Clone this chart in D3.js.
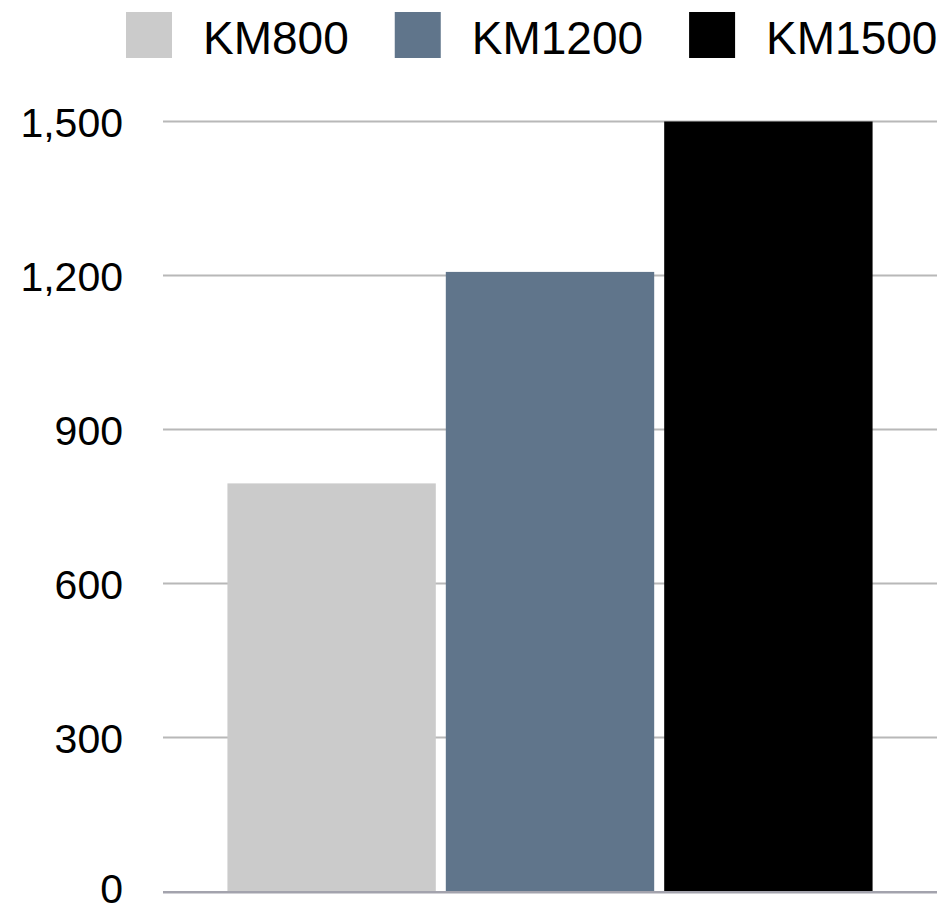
<!DOCTYPE html>
<html>
<head>
<meta charset="utf-8">
<script src="https://cdn.jsdelivr.net/npm/d3@7"></script>
<style>
  body { margin: 0; background: #fff; }
  text { font-family: "Liberation Sans", Arial, Helvetica, sans-serif; fill: #000; }
</style>
</head>
<body>
<div id="chart"></div>
<script>
var categories = ["KM800", "KM1200", "KM1500"];
var values = [795, 1207, 1500];
var colors = ["#cbcbcb", "#60758b", "#000000"];
var yTicks = [0, 300, 600, 900, 1200, 1500];

var width = 948, height = 913;
var margin = { top: 121.5, right: 11, bottom: 21.5, left: 163 };

var svg = d3.select("#chart").append("svg")
    .attr("width", width)
    .attr("height", height);

var x = d3.scaleBand()
    .domain(categories)
    .range([margin.left, width - margin.right])
    .paddingInner(0.0458)
    .paddingOuter(0.295);

var y = d3.scaleLinear()
    .domain([0, 1500])
    .range([height - margin.bottom, margin.top]);

// gridlines
svg.append("g")
    .selectAll("line")
    .data(yTicks.filter(function(d) { return d > 0; }))
    .enter().append("line")
    .attr("x1", margin.left)
    .attr("x2", width - margin.right)
    .attr("y1", function(d) { return y(d); })
    .attr("y2", function(d) { return y(d); })
    .attr("stroke", "#b8b8b8")
    .attr("stroke-width", 2.2);

// tick labels
var yAxis = d3.axisLeft(y)
    .tickValues(yTicks)
    .tickFormat(d3.format(","))
    .tickSize(0)
    .tickPadding(40);

var ag = svg.append("g")
    .attr("transform", "translate(" + margin.left + ",0)")
    .call(yAxis);
ag.select(".domain").remove();
ag.selectAll("text")
    .attr("font-size", 41)
    .attr("fill", "#000")
    .attr("dy", "0.36em")
    .style("font-family", "'Liberation Sans', Arial, sans-serif");
// keep the 0 label inside the bottom edge
ag.selectAll(".tick").filter(function(d) { return d === 0; })
    .select("text")
    .attr("y", -4);

// bars
svg.append("g")
    .selectAll("rect")
    .data(categories)
    .enter().append("rect")
    .attr("x", function(d) { return x(d); })
    .attr("width", x.bandwidth())
    .attr("y", function(d, i) { return y(values[i]); })
    .attr("height", function(d, i) { return y(0) - y(values[i]); })
    .attr("fill", function(d, i) { return colors[i]; });

// baseline
svg.append("line")
    .attr("x1", margin.left)
    .attr("x2", width - margin.right)
    .attr("y1", y(0) + 0.8)
    .attr("y2", y(0) + 0.8)
    .attr("stroke", "#a3a3ad")
    .attr("stroke-width", 2.5);

// legend
var legend = svg.append("g");
var lx = 126;
categories.forEach(function(c, i) {
    legend.append("rect")
        .attr("x", lx)
        .attr("y", 12)
        .attr("width", 46)
        .attr("height", 46)
        .attr("fill", colors[i]);
    var t = legend.append("text")
        .attr("x", lx + 77)
        .attr("y", 37)
        .attr("dy", "0.36em")
        .attr("font-size", 46)
        .text(c);
    lx = lx + 77 + t.node().getComputedTextLength() + 46;
});
</script>
</body>
</html>
